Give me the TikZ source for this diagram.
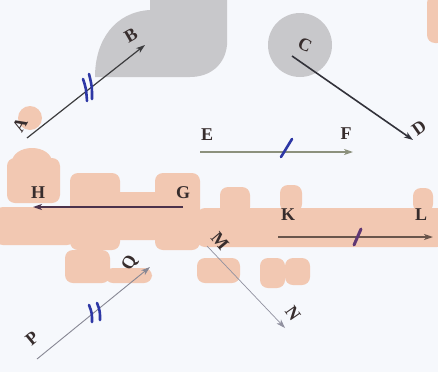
\documentclass[tikz,border=0pt]{standalone}
\usepackage{fontspec}
\setmainfont{Liberation Serif}
\usetikzlibrary{arrows.meta}
\definecolor{paper}{RGB}{246,248,252}
\definecolor{blobgray}{RGB}{200,200,203}
\definecolor{salmon}{RGB}{242,200,178}
\definecolor{lblcol}{RGB}{55,45,45}
\definecolor{tickblue}{RGB}{45,55,165}
\definecolor{tickpurple}{RGB}{95,55,115}
\tikzset{
  lbl/.style={font=\fontsize{18}{18}\selectfont\bfseries, text=lblcol, inner sep=0pt},
  vec/.style={-{Stealth[length=9pt,width=6pt,inset=2.5pt]}},
  tickmark/.style={line width=2.6pt, line cap=round},
  wm/.style={fill=salmon, draw=none, rounded corners=8pt},
}
\begin{document}
\begin{tikzpicture}[x=1pt,y=-1pt]
\fill[paper] (0,0) rectangle (438,372);
\useasboundingbox (0,0) rectangle (438,372);
% gray blobs
\fill[blobgray] (150,0) -- (227,0) -- (227,45) .. controls (225,65) and (210,77) .. (190,77) -- (95,77) .. controls (95,40) and (115,12) .. (150,10) -- cycle;
\fill[blobgray] (300,45) circle (32);
% salmon watermark
\fill[salmon] (30,118) circle (12);
\fill[salmon] (32,162) ellipse (20 and 14);
\fill[wm] (427,-5) rectangle (445,43);
\fill[wm] (7,158) rectangle (60,203);
\fill[wm] (-5,207) rectangle (75,245);
\fill[wm] (70,173) rectangle (120,250);
\fill[wm] (155,173) rectangle (200,250);
\fill[wm] (110,192) rectangle (165,240);
\fill[wm] (65,250) rectangle (110,283);
\fill[wm] (105,268) rectangle (152,283);
\fill[wm] (197,208) rectangle (445,247);
\fill[wm] (220,187) rectangle (250,215);
\fill[wm] (197,258) rectangle (240,283);
\fill[wm] (280,185) rectangle (302,212);
\fill[wm] (413,188) rectangle (433,212);
\fill[wm] (260,258) rectangle (285,288);
\fill[wm] (285,258) rectangle (310,285);
% endpoints
\coordinate (a) at (27,138);  \coordinate (b) at (145,45);
\coordinate (c) at (292,56);  \coordinate (d) at (413,140);
\coordinate (e) at (200,152); \coordinate (f) at (353,152);
\coordinate (g) at (183,207); \coordinate (h) at (33,207);
\coordinate (k) at (278,237); \coordinate (l) at (433,237);
\coordinate (m) at (207,246); \coordinate (n) at (285,328);
\coordinate (p) at (37,359);  \coordinate (q) at (150,267);
% vectors
\draw[vec, line width=1.2pt, color={rgb,255:red,60;green,60;blue,62}] (a) -- (b);
\draw[vec, line width=1.6pt, color={rgb,255:red,50;green,50;blue,58}] (c) -- (d);
\draw[vec, line width=1.4pt, color={rgb,255:red,140;green,145;blue,125}] (e) -- (f);
\draw[vec, line width=1.8pt, color={rgb,255:red,75;green,50;blue,75}] (g) -- (h);
\draw[vec, line width=1.8pt, color={rgb,255:red,105;green,85;blue,75}] (k) -- (l);
\draw[vec, line width=0.7pt, color={rgb,255:red,145;green,145;blue,160}] (m) -- (n);
\draw[vec, line width=0.9pt, color={rgb,255:red,135;green,135;blue,148}] (p) -- (q);
% tick marks
\coordinate (t1a) at (83,79); \coordinate (t1b) at (87,101);
\coordinate (t2a) at (89,74); \coordinate (t2b) at (92,99);
\draw[tickmark, tickblue] (t1a) .. controls (86,88) .. (t1b);
\draw[tickmark, tickblue] (t2a) .. controls (92,86) .. (t2b);
\coordinate (t3a) at (292,139); \coordinate (t3b) at (281,157);
\draw[tickmark, tickblue] (t3a) -- (t3b);
\coordinate (t4a) at (361,229); \coordinate (t4b) at (354,245);
\draw[tickmark, tickpurple, line width=3pt] (t4a) -- (t4b);
\coordinate (t5a) at (89,305); \coordinate (t5b) at (92,322);
\coordinate (t6a) at (97,303); \coordinate (t6b) at (100,320);
\draw[tickmark, tickblue] (t5a) .. controls (92,313) .. (t5b);
\draw[tickmark, tickblue] (t6a) .. controls (100,311) .. (t6b);
% labels
\node[lbl, rotate=60] (A) at (20,125) {A};
\node[lbl, rotate=30] (B) at (131,35) {B};
\node[lbl, rotate=-25] (C) at (305,45) {C};
\node[lbl, rotate=35] (D) at (419,128) {D};
\node[lbl] (E) at (207,135) {E};
\node[lbl] (F) at (346,134) {F};
\node[lbl] (G) at (183,193) {G};
\node[lbl] (H) at (38,193) {H};
\node[lbl] (K) at (288,215) {K};
\node[lbl] (L) at (421,215) {L};
\node[lbl, rotate=-50] (M) at (220,241) {M};
\node[lbl, rotate=-55] (N) at (293,313) {N};
\node[lbl, rotate=40] (P) at (32,338) {P};
\node[lbl, rotate=60] (Q) at (130,263) {Q};
\end{tikzpicture}
\end{document}
